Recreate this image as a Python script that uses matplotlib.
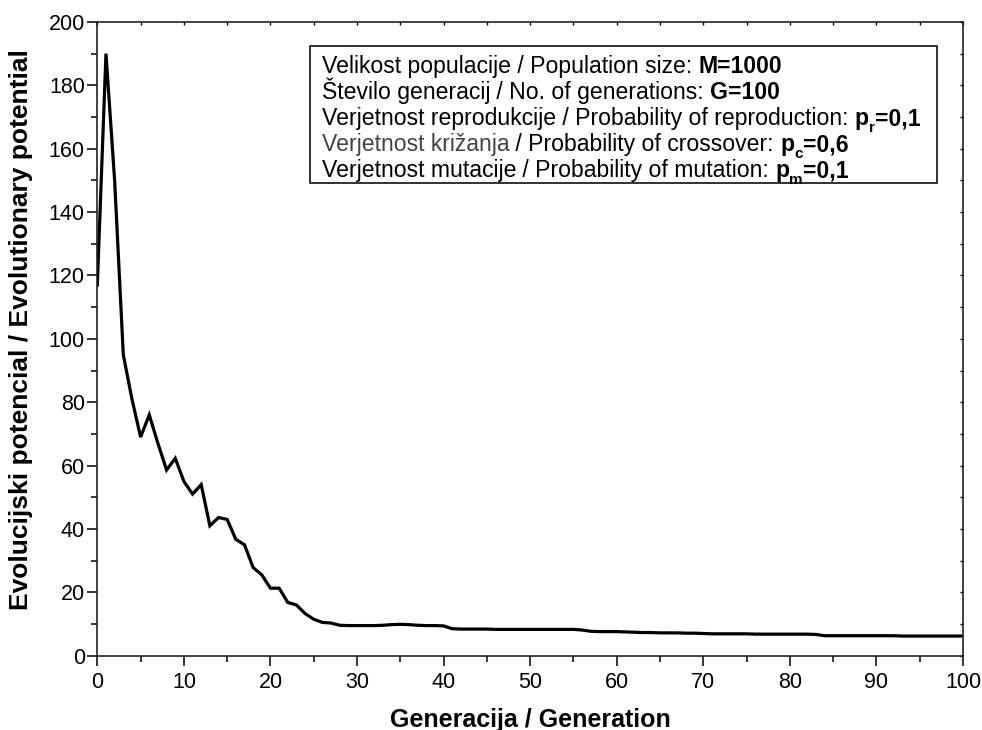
import numpy as np
import matplotlib
matplotlib.use("Agg")
import matplotlib.pyplot as plt
from matplotlib.patches import Rectangle
from matplotlib.ticker import MultipleLocator, NullFormatter

plt.rcParams['font.family'] = ['Liberation Sans', 'DejaVu Sans']

# generacija 0..100
generation = np.arange(0, 101)
potential = [
    117, 190, 150, 95, 81, 69, 76, 67, 58.6, 62.3,
    55, 51, 54, 41, 43.6, 43, 36.7, 35, 27.8, 25.5,
    21.3, 21.3, 16.8, 16, 13.3, 11.5, 10.5, 10.3, 9.6, 9.5,
    9.5, 9.5, 9.5, 9.6, 9.8, 9.9, 9.8, 9.6, 9.5, 9.5,
    9.4, 8.5, 8.4, 8.4, 8.4, 8.4, 8.3, 8.3, 8.3, 8.3,
    8.3, 8.3, 8.3, 8.3, 8.3, 8.3, 8.1, 7.7, 7.6, 7.6,
    7.6, 7.5, 7.4, 7.3, 7.3, 7.2, 7.2, 7.2, 7.1, 7.1,
    7.0, 6.9, 6.9, 6.9, 6.9, 6.9, 6.8, 6.8, 6.8, 6.8,
    6.8, 6.8, 6.8, 6.7, 6.3, 6.3, 6.3, 6.3, 6.3, 6.3,
    6.3, 6.3, 6.3, 6.2, 6.2, 6.2, 6.2, 6.2, 6.2, 6.2,
    6.2,
]

# vrstice legende: (slovenski del, angleski del, simbol, indeks, vrednost)
param_slo = [
    "Velikost populacije",
    "Število generacij",
    "Verjetnost reprodukcije",
    "Verjetnost križanja",
    "Verjetnost mutacije",
]
param_eng = [
    " / Population size: ",
    " / No. of generations: ",
    " / Probability of reproduction: ",
    " / Probability of crossover: ",
    " / Probability of mutation: ",
]
param_symbols = ["M", "G", "p", "p", "p"]
param_subs = [None, None, "r", "c", "m"]
param_values = ["=1000", "=100", "=0,1", "=0,6", "=0,1"]

fig = plt.figure(figsize=(9.82, 7.30), dpi=100)
ax = fig.add_axes([0.0991, 0.1018, 0.8816, 0.8681])

ax.plot(generation, potential, color='black', lw=2.3, solid_joinstyle='miter')

ax.set_xlim(0, 100)
ax.set_ylim(0, 200)
ax.xaxis.set_major_locator(MultipleLocator(10))
ax.xaxis.set_minor_locator(MultipleLocator(5))
ax.yaxis.set_major_locator(MultipleLocator(20))
ax.yaxis.set_minor_locator(MultipleLocator(10))
ax.tick_params(which='major', direction='out', length=7, width=1.1, labelsize=15.5, pad=2)
ax.tick_params(axis='x', which='major', pad=5)
ax.tick_params(which='minor', direction='out', length=4, width=1.1)
for s in ax.spines.values():
    s.set_linewidth(1.2)
    s.set_color('#222222')

# kratke notranje oznake zgoraj in desno
top = ax.secondary_xaxis('top')
top.xaxis.set_major_locator(MultipleLocator(5))
top.xaxis.set_major_formatter(NullFormatter())
top.tick_params(direction='in', length=2.5, width=1.0)
top.spines['top'].set_visible(False)
right = ax.secondary_yaxis('right')
right.yaxis.set_major_locator(MultipleLocator(10))
right.yaxis.set_major_formatter(NullFormatter())
right.tick_params(direction='in', length=2.5, width=1.0)
right.spines['right'].set_visible(False)

ax.set_xlabel("Generacija / Generation", fontsize=18, fontweight='bold')
ax.set_ylabel("Evolucijski potencial / Evolutionary potential", fontsize=19,
              fontweight='bold')
ax.xaxis.set_label_coords(0.5, -0.082)
ax.yaxis.set_label_coords(-0.0745, 0.515)

# okvir s parametri
box = Rectangle((0.2457, 0.746), 0.7243, 0.216, transform=ax.transAxes,
                fill=False, edgecolor='#222222', lw=1.3, zorder=3)
ax.add_patch(box)

fs = 16.6
y0 = 0.911
dy = 0.041
for i in range(len(param_slo)):
    col = '#444444' if i == 3 else 'black'
    t = ax.text(0.259, y0 - i * dy, param_slo[i], transform=ax.transAxes,
                fontsize=fs, color=col, va='bottom', ha='left')
    t = ax.annotate(param_eng[i], xy=(1, 0), xycoords=t, fontsize=fs,
                    va='bottom', ha='left')
    t = ax.annotate(param_symbols[i], xy=(1, 0), xycoords=t, fontsize=fs,
                    fontweight='bold', va='bottom', ha='left')
    if param_subs[i] is not None:
        t = ax.annotate(param_subs[i], xy=(1, 0), xycoords=t, xytext=(0, -3.5),
                        textcoords='offset points', fontsize=11, fontweight='bold',
                        va='bottom', ha='left')
        ax.annotate(param_values[i], xy=(1, 0), xycoords=t, xytext=(0, 3.5),
                    textcoords='offset points', fontsize=fs, fontweight='bold',
                    va='bottom', ha='left')
    else:
        ax.annotate(param_values[i], xy=(1, 0), xycoords=t, fontsize=fs,
                    fontweight='bold', va='bottom', ha='left')

fig.savefig("out.png", dpi=100)
